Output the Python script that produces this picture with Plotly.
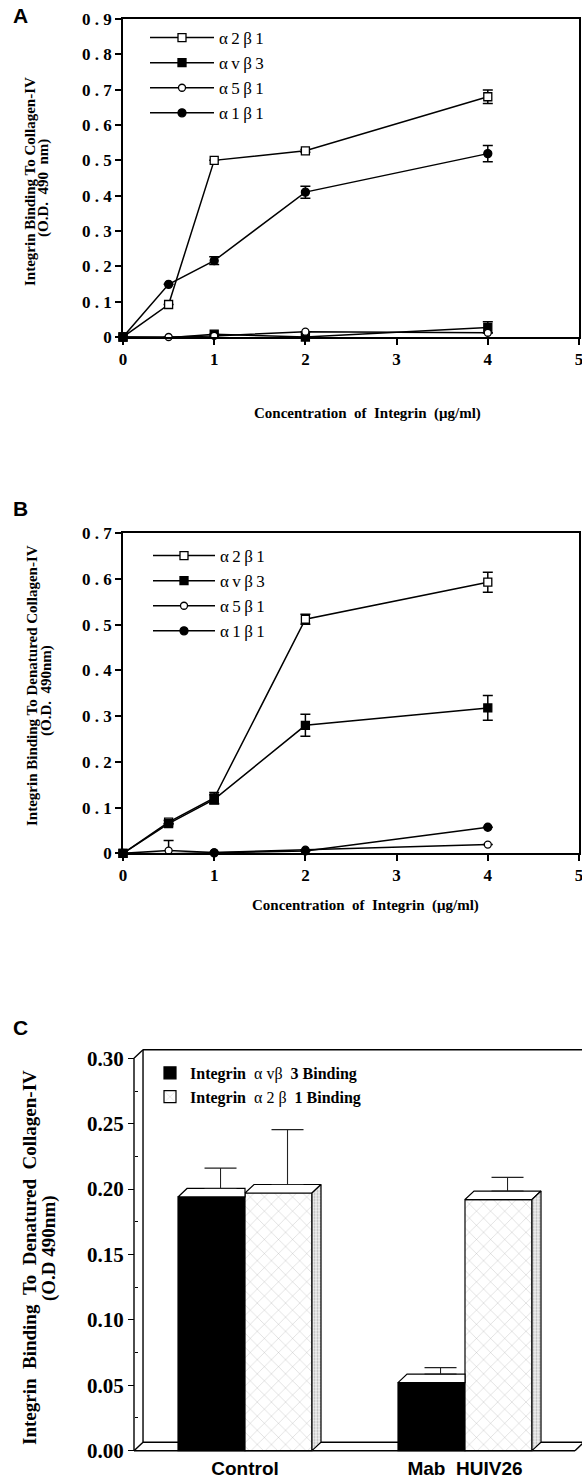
import plotly.graph_objects as go

W, H = 582, 1484
SERIF = "Liberation Serif"
SANS = "Liberation Sans"

# ---------------- data ----------------
conc = [0, 0.5, 1, 2, 4]
series_names = ["α\u20092\u2009β\u20091", "α\u2009v\u2009β\u20093", "α\u20095\u2009β\u20091", "α\u20091\u2009β\u20091"]

a_a2b1 = [0, 0.092, 0.500, 0.527, 0.680]
a_a2b1_err = [0, 0, 0, 0.004, 0.019]
a_avb3 = [0, -0.002, 0.008, 0.000, 0.027]
a_avb3_err = [0, 0, 0, 0, 0.016]
a_a5b1 = [0, 0.000, 0.003, 0.015, 0.012]
a_a5b1_err = [0, 0, 0, 0, 0]
a_a1b1 = [0, 0.149, 0.216, 0.410, 0.519]
a_a1b1_err = [0, 0, 0.011, 0.017, 0.023]

b_a2b1 = [0, 0.068, 0.121, 0.512, 0.593]
b_a2b1_err = [0, 0.004, 0.012, 0.011, 0.022]
b_avb3 = [0, 0.065, 0.118, 0.280, 0.318]
b_avb3_err = [0, 0, 0.010, 0.024, 0.027]
b_a5b1 = [0, 0.006, 0.002, 0.008, 0.019]
b_a5b1_err = [0, 0.022, 0, 0, 0]
b_a1b1 = [0, -0.001, 0.001, 0.005, 0.057]
b_a1b1_err = [0, 0, 0, 0, 0]

c_groups = ["Control", "Mab\u00a0\u00a0HUIV26"]
c_avb3 = [0.194, 0.052]
c_avb3_err = [0.0155, 0.005]
c_a2b1 = [0.197, 0.192]
c_a2b1_err = [0.042, 0.0105]

a_yticks = [0, 0.1, 0.2, 0.3, 0.4, 0.5, 0.6, 0.7, 0.8, 0.9]
b_yticks = [0, 0.1, 0.2, 0.3, 0.4, 0.5, 0.6, 0.7]
c_yticks = [0, 0.05, 0.10, 0.15, 0.20, 0.25, 0.30]
x_ticks = [0, 1, 2, 3, 4, 5]

# ---------------- helpers ----------------
def px(p):
    return p / W

def py(p):
    return 1 - p / H

def spaced(v):
    if v == 0:
        return "0"
    return " . ".join(f"{v:.1f}".split("."))

fig = go.Figure()

styles = [
    dict(symbol="square", color="white", size=8),
    dict(symbol="square", color="black", size=8),
    dict(symbol="circle", color="white", size=7),
    dict(symbol="circle", color="black", size=8),
]

def add_panel(vals, errs, xa, ya, leg):
    for name, v, e, st in zip(series_names, vals, errs, styles):
        fig.add_trace(go.Scatter(
            x=conc, y=v, name=name, mode="lines+markers",
            xaxis=xa, yaxis=ya, legend=leg, cliponaxis=False,
            line=dict(color="black", width=1.5),
            marker=dict(symbol=st["symbol"], size=st["size"], color=st["color"],
                        line=dict(color="black", width=1.3)),
            error_y=dict(type="data", array=e, visible=True, color="black",
                         thickness=1.5, width=5),
        ))

add_panel([a_a2b1, a_avb3, a_a5b1, a_a1b1], [a_a2b1_err, a_avb3_err, a_a5b1_err, a_a1b1_err], "x", "y", "legend")
add_panel([b_a2b1, b_avb3, b_a5b1, b_a1b1], [b_a2b1_err, b_avb3_err, b_a5b1_err, b_a1b1_err], "x2", "y2", "legend2")

# ---------------- panel C (pseudo-3D bars) ----------------
BW = 0.3045             # bar width (category units)
DX, DY = 0.041, 0.0065  # depth offset of the 3D look
cx = [0, 1]

fig.add_trace(go.Bar(
    x=cx, y=c_avb3, width=BW, offset=-BW, xaxis="x3", yaxis="y3", legend="legend3",
    name="<b>Integrin</b>\u00a0\u00a0α\u00a0vβ\u00a0\u00a0<b>3 Binding</b>",
    marker=dict(color="black", line=dict(color="black", width=1.2)),
))
fig.add_trace(go.Bar(
    x=cx, y=c_a2b1, width=BW, offset=0, xaxis="x3", yaxis="y3", legend="legend3",
    name="<b>Integrin</b>\u00a0\u00a0α\u00a02\u00a0β\u00a0\u00a0<b>1 Binding</b>",
    marker=dict(color="white", line=dict(color="black", width=1.2),
                pattern=dict(shape="x", fgcolor="#444", bgcolor="white", size=10, solidity=0.06)),
))

for i, c in enumerate(cx):
    v = c_avb3[i]
    xl, xr = c - BW, c
    fig.add_trace(go.Scatter(
        x=[xl, xl + DX, xr, xr, xl], y=[v, v + DY, v + DY, v, v],
        mode="lines", fill="toself", fillcolor="white", showlegend=False,
        line=dict(color="black", width=1.2), xaxis="x3", yaxis="y3", hoverinfo="skip"))
    v = c_a2b1[i]
    xl, xr = c, c + BW
    fig.add_trace(go.Scatter(
        x=[xl, xl + DX, xr + DX, xr, xl], y=[v, v + DY, v + DY, v, v],
        mode="lines", fill="toself", fillcolor="white", showlegend=False,
        line=dict(color="black", width=1.2), xaxis="x3", yaxis="y3", hoverinfo="skip"))
    fig.add_trace(go.Scatter(
        x=[xr, xr, xr + DX, xr + DX, xr], y=[0, v, v + DY, DY, 0],
        mode="lines", fill="toself", fillcolor="#e6e6e6", showlegend=False,
        fillpattern=dict(shape=".", fgcolor="#777", bgcolor="#f2f2f2", size=3, solidity=0.4),
        line=dict(color="black", width=1.2), xaxis="x3", yaxis="y3", hoverinfo="skip"))

fig.add_trace(go.Scatter(
    x=[c - BW / 2 + DX for c in cx], y=[v + DY for v in c_avb3], mode="markers",
    marker=dict(size=1, color="rgba(0,0,0,0)"), showlegend=False, xaxis="x3", yaxis="y3",
    error_y=dict(type="data", symmetric=False, array=c_avb3_err, arrayminus=[0, 0],
                 color="#222", thickness=1.1, width=16)))
fig.add_trace(go.Scatter(
    x=[c + BW / 2 + DX for c in cx], y=[v + DY for v in c_a2b1], mode="markers",
    marker=dict(size=1, color="rgba(0,0,0,0)"), showlegend=False, xaxis="x3", yaxis="y3",
    error_y=dict(type="data", symmetric=False, array=c_a2b1_err, arrayminus=[0, 0],
                 color="#222", thickness=1.1, width=16)))

XF = -0.5045   # front y axis position
XE = 1.5       # right end of front floor
XR = 2.0       # beyond right edge
YT = 0.30
frame = [
    (XF, 0, XF, YT), (XF, YT, XF + DX, YT + DY), (XF + DX, YT + DY, XR, YT + DY),
    (XF + DX, DY, XF + DX, YT + DY), (XF, 0, XF + DX, DY), (XF, 0, XE, 0),
    (XF + DX, DY, XR, DY), (XE, 0, XE + DX, DY),
]
for x0, y0, x1, y1 in frame:
    fig.add_shape(type="line", xref="x3", yref="y3", x0=x0, y0=y0, x1=x1, y1=y1,
                  line=dict(color="black", width=1.4), layer="below")

# ---------------- axes ----------------
tickfont = dict(family=SERIF, size=17, color="black", weight="bold")
common_x = dict(range=[0, 5], tickvals=x_ticks, ticktext=[str(t) for t in x_ticks],
                showline=True, linecolor="black", linewidth=1.5, mirror=True,
                ticks="outside", ticklen=6, tickwidth=1.5, tickcolor="black",
                showgrid=False, zeroline=False, tickfont=tickfont,
                ticklabeloverflow="allow", domain=[px(123), px(579)])
common_y = dict(showline=True, linecolor="black", linewidth=1.5, mirror=True,
                ticks="outside", ticklen=6, tickwidth=1.5, tickcolor="black",
                showgrid=False, zeroline=False, tickfont=tickfont)

leg_font = dict(family=SERIF, size=17, color="black")
fig.update_layout(
    width=W, height=H, margin=dict(l=0, r=0, t=0, b=0, autoexpand=False),
    paper_bgcolor="white", plot_bgcolor="white", showlegend=True,
    xaxis=dict(anchor="y", **common_x),
    yaxis=dict(anchor="x", range=[0, 0.9], domain=[py(337), py(19)],
               tickvals=a_yticks, ticktext=[spaced(v) for v in a_yticks], **common_y),
    xaxis2=dict(anchor="y2", **common_x),
    yaxis2=dict(anchor="x2", range=[0, 0.7], domain=[py(853.3), py(533.3)],
                tickvals=b_yticks, ticktext=[spaced(v) for v in b_yticks], **common_y),
    xaxis3=dict(anchor="y3", range=[-0.5227, 1.5318], domain=[px(130), 1.0],
                tickvals=cx, ticktext=c_groups, ticks="", showline=False,
                showgrid=False, zeroline=False,
                tickfont=dict(family=SANS, size=19, color="black", weight="bold")),
    yaxis3=dict(anchor="free", position=px(134), range=[-0.003, 0.3075],
                domain=[py(1454.6), py(1048.5)],
                tickvals=c_yticks, ticktext=[f"{v:.2f}" for v in c_yticks],
                ticks="outside", ticklen=6, tickwidth=1.4, tickcolor="black",
                showline=False, showgrid=False, zeroline=False,
                minor=dict(tickvals=[0.025, 0.075, 0.125, 0.175, 0.225, 0.275],
                           ticks="inside", ticklen=3, tickcolor="black"),
                tickfont=dict(family=SERIF, size=21, color="black", weight="bold")),
    legend=dict(x=px(145), y=py(20), xanchor="left", yanchor="top", font=leg_font,
                bgcolor="rgba(0,0,0,0)", itemwidth=64),
    legend2=dict(x=px(148), y=py(538), xanchor="left", yanchor="top", font=leg_font,
                 bgcolor="rgba(0,0,0,0)", itemwidth=62),
    legend3=dict(x=px(150), y=py(1056), xanchor="left", yanchor="top",
                 font=dict(family=SERIF, size=16, color="black"),
                 bgcolor="rgba(0,0,0,0)"),
)

def ann(text, x, y, size, family=SERIF, angle=0, bold=True):
    fig.add_annotation(text=text, x=px(x), y=py(y), xref="paper", yref="paper",
                       showarrow=False, textangle=angle, xanchor="center", yanchor="middle",
                       font=dict(family=family, size=size, color="black",
                                 weight="bold" if bold else "normal"))

ann("A", 21, 16, 21, family=SANS)
ann("B", 21, 508, 21, family=SANS)
ann("C", 20, 1027, 21, family=SANS)

ann("Integrin Binding To Collagen-IV", 30, 182, 15, angle=-90)
ann("(O.D.  490  nm)", 44, 188, 15, angle=-90)
ann("Integrin Binding To Denatured Collagen-IV", 32, 686, 15, angle=-90)
ann("(O.D.  490nm)", 46, 691, 15, angle=-90)
ann("Integrin\u00a0\u00a0Binding\u00a0\u00a0To\u00a0\u00a0Denatured\u00a0\u00a0Collagen-IV", 29, 1258, 19, angle=-90)
ann("(O.D 490nm)", 49, 1248, 19, angle=-90)

ann("Concentration\u00a0\u00a0of\u00a0\u00a0Integrin\u00a0\u00a0(μg/ml)", 367, 414, 15)
ann("Concentration\u00a0\u00a0of\u00a0\u00a0Integrin\u00a0\u00a0(μg/ml)", 365, 905, 15)

fig.write_html("out.html", config={"displayModeBar": False},
               post_script="document.body.style.margin='0';document.body.style.padding='0';")
